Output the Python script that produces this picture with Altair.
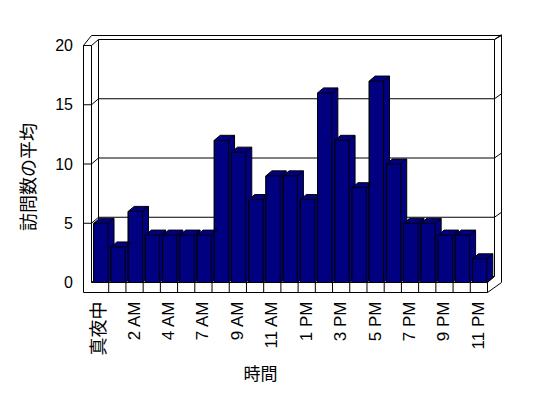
import altair as alt
import pandas as pd

# ---- data ----
hours = ["真夜中", "1 AM", "2 AM", "3 AM", "4 AM", "5 AM", "7 AM", "8 AM", "9 AM",
         "10 AM", "11 AM", "12 PM", "1 PM", "2 PM", "3 PM", "4 PM", "5 PM", "6 PM",
         "7 PM", "8 PM", "9 PM", "10 PM", "11 PM"]
visits = [5, 3, 6, 4, 4, 4, 4, 12, 11, 7, 9, 9, 7, 16, 12, 8, 17, 10, 5, 5, 4, 4, 2]
y_ticks = [0, 5, 10, 15, 20]
y_title = "訪問数の平均"
x_title = "時間"

# ---- layout / style ----
W, H = 396, 237
N = len(hours)
YMAX = 20
PX = W / N
PY = H / YMAX
DX = 6 / PX          # bar depth in x data units
DY = 5 / PY          # bar depth in y data units
L_OFF, R_OFF = 0.13, 0.96
NAVY = "#000080"
FONT = "Liberation Sans, Noto Sans CJK JP"
CJK = "Noto Sans CJK JP"

xs = alt.Scale(domain=[0, N], nice=False, zero=False)
ys = alt.Scale(domain=[0, YMAX], nice=False, zero=True)

yaxis = alt.Axis(values=y_ticks, domain=False, ticks=False, grid=False,
                 labelPadding=19, labelFont=FONT, labelFontSize=16, labelColor="black",
                 title=y_title, titleFont=CJK, titleFontSize=18, titleFontWeight="normal",
                 titleColor="black", titleAngle=270, titleX=-62.5, titleY=131,
                 titleAlign="center", titleBaseline="middle")
xaxis = alt.Axis(labels=False, ticks=False, domain=False, grid=False,
                 title=x_title, titleFont=CJK, titleFontSize=17, titleFontWeight="normal",
                 titleColor="black", titleX=168.5, titleY=92,
                 titleAlign="center", titleBaseline="middle")


def X(f):
    return alt.X(f, type="quantitative", scale=xs, axis=xaxis)


def Y(f):
    return alt.Y(f, type="quantitative", scale=ys, axis=yaxis)


one = pd.DataFrame({"d": [0]})


def seg(x1, y1, x2, y2):
    return alt.Chart(one).mark_rule(color="black", strokeWidth=1).encode(
        x=alt.value(x1), y=alt.value(y1), x2=alt.value(x2), y2=alt.value(y2))


# ---- tables built from the arrays ----
bars = pd.DataFrame({"i": range(N), "v": visits, "hour": hours})
bars["l"] = bars["i"] + L_OFF
bars["r"] = bars["i"] + R_OFF
bars["zero"] = 0.0
bars["rd"] = bars["r"] + DX
bars["vd"] = bars["v"] + DY

rows = []
for i, v in zip(range(N), visits):
    l, r = i + L_OFF, i + R_OFF
    rows += [
        {"bar": i, "x": l, "lo": 0.0, "hi": v},
        {"bar": i, "x": l + DX, "lo": 0.0, "hi": v + DY},
        {"bar": i, "x": r, "lo": 0.0, "hi": v + DY},
        {"bar": i, "x": r + DX, "lo": DY, "hi": v + DY},
    ]
hexdf = pd.DataFrame(rows)

ticks = pd.DataFrame({"t": y_ticks})
ticks_up = ticks[ticks["t"] > 0]
divs = pd.DataFrame({"b": list(range(1, N + 1))})
labs = pd.DataFrame({"pos": [i + 0.5 for i in range(0, N, 2)],
                     "label": hours[::2]})
labs["cjk"] = [not s.isascii() for s in labs["label"]]
labs_latin = labs[~labs["cjk"]]
labs_cjk = labs[labs["cjk"]]

# ---- frame (3D walls and floor) ----
frame = [
    seg(7, -6, 7, H - 6),
    seg(W + 7, -6, W + 7, H - 6),
    seg(7, H - 6, W + 7, H - 6),
    seg(W + 7, -6, W + 14, -10),
    seg(W + 14, -10, W + 14, H),
    seg(0, -10, W + 14, -10),
    seg(-8, 0, 0, -10),
    seg(-8, 0, -8, H + 10),
    seg(0, 0, 0, H),
    seg(-8, H + 10, W, H + 10),
    seg(0, H, W, H),
    seg(W, H + 10, W + 14, H),
    seg(W, H, W + 7, H - 6),
]

tick_front = alt.Chart(ticks_up).mark_rule(color="black").encode(
    y=Y("t"), x=alt.value(-8), x2=alt.value(0))
tick_diag = alt.Chart(ticks).mark_rule(color="black", y2Offset=-6).encode(
    y=Y("t"), y2="t:Q", x=alt.value(0), x2=alt.value(7))
grid_back = alt.Chart(ticks_up).mark_rule(color="black", yOffset=-6).encode(
    y=Y("t"), x=alt.value(7), x2=alt.value(W + 7))
grid_right = alt.Chart(ticks_up).mark_rule(color="black", yOffset=-6, y2Offset=-11).encode(
    y=Y("t"), y2="t:Q", x=alt.value(W + 7), x2=alt.value(W + 14))
floor_divs = alt.Chart(divs).mark_rule(color="black").encode(
    x=X("b"), y=alt.value(H), y2=alt.value(H + 10))

# ---- bars: 3D body (top + side faces), front face, edge ----
bar_body = alt.Chart(hexdf).mark_area(fill=NAVY, fillOpacity=1, opacity=1,
                                      stroke="black", strokeWidth=1,
                                      interpolate="linear", orient="vertical").encode(
    x=X("x"), y=Y("lo"), y2="hi:Q", detail="bar:N")
bar_front = alt.Chart(bars).mark_rect(fill=NAVY, stroke="black", strokeWidth=1).encode(
    x=X("l"), x2="r:Q", y=Y("v"), y2="zero:Q")
bar_edge = alt.Chart(bars).mark_rule(color="black").encode(
    x=X("r"), x2="rd:Q", y=Y("v"), y2="vd:Q")

# ---- x labels ----
xlabels = alt.Chart(labs_latin).mark_text(angle=270, align="right", baseline="middle",
                                          font="Liberation Sans", fontSize=17,
                                          color="black").encode(
    x=X("pos"), y=alt.value(H + 19), text="label:N")
xlabels_cjk = alt.Chart(labs_cjk).mark_text(angle=270, align="right", baseline="middle",
                                            font=CJK, fontSize=18,
                                            color="black").encode(
    x=X("pos"), y=alt.value(H + 19), text="label:N")

chart = alt.layer(
    *frame, tick_front, tick_diag, grid_back, grid_right, floor_divs,
    bar_body, bar_front, bar_edge, xlabels, xlabels_cjk
).properties(
    width=W, height=H,
    autosize=alt.AutoSizeParams(type="none"),
    padding={"left": 83.5, "top": 37.5, "right": 52.5, "bottom": 107.5},
    background="white",
).configure_view(strokeWidth=0)

chart.save("out.html", embed_options={"renderer": "svg", "actions": False})
